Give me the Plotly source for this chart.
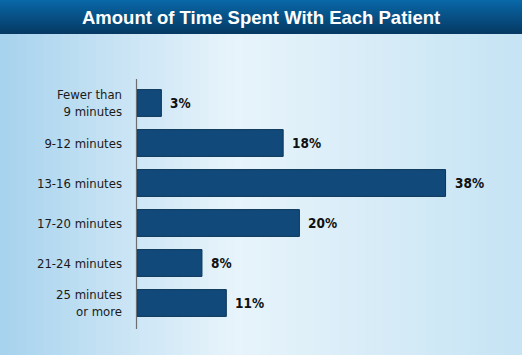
import plotly.graph_objects as go

categories = ["Fewer than<br>9 minutes", "9-12 minutes", "13-16 minutes",
              "17-20 minutes", "21-24 minutes", "25 minutes<br>or more"]
values = [3, 18, 38, 20, 8, 11]
value_labels = ["3%", "18%", "38%", "20%", "8%", "11%"]
title_text = "Amount of Time Spent With Each Patient"

W, H = 522, 355
FONT = "Liberation Sans Narrow, DejaVu Sans Condensed, Arial Narrow, sans-serif"

def lerp(c1, c2, t):
    return "rgb(%d,%d,%d)" % tuple(round(a + (b - a) * t) for a, b in zip(c1, c2))

shapes = []
# background horizontal gradient (left saturated, middle light, right mid)
n = 60
for i in range(n):
    t = i / (n - 1)
    if t < 0.45:
        c = lerp((168, 211, 238), (232, 244, 251), t / 0.45)
    else:
        c = lerp((232, 244, 251), (198, 228, 244), (t - 0.45) / 0.55)
    shapes.append(dict(type="rect", xref="paper", yref="paper",
                       x0=-137 / 385 + i * (W / n) / 385, x1=-137 / 385 + (i + 1) * (W / n) / 385 + 0.003,
                       y0=-1, y1=2, fillcolor=c, line_width=0, layer="below"))

fig = go.Figure()
fig.add_trace(go.Bar(
    y=categories, x=values, orientation="h",
    marker=dict(color="#114a7a", line=dict(color="#0a3456", width=1)),
    width=0.67, hoverinfo="skip",
))

annotations = []
for c, v, lab in zip(categories, values, value_labels):
    annotations.append(dict(x=v, y=c, text="<b>" + lab + "</b>", showarrow=False,
                            xanchor="left", xshift=7,
                            font=dict(family=FONT, size=13.5, color="#111111")))

fig.update_layout(
    width=W, height=H,
    margin=dict(l=137, r=0, t=83, b=32),
    paper_bgcolor="#d8ecf8", plot_bgcolor="rgba(0,0,0,0)",
    showlegend=False,
    xaxis=dict(range=[0, 385 / 8.12], visible=False, fixedrange=True),
    yaxis=dict(autorange="reversed", showgrid=False, zeroline=False, showline=False,
               ticks="", ticklabelstandoff=14,
               tickfont=dict(family=FONT, size=13, color="#1a1a1a")),
    annotations=annotations,
)

# banner gradient
m = 34
for j in range(m):
    t = j / (m - 1)
    c = lerp((10, 104, 168), (6, 58, 100), t)
    shapes.append(dict(type="rect", xref="paper", yref="paper",
                       x0=-137 / 385, x1=1.01,
                       y0=1 + (83 - j - 1) / 240, y1=1 + (83 - j) / 240 + 0.001,
                       fillcolor=c, line_width=0, layer="below"))
# axis line
shapes.append(dict(type="line", xref="paper", yref="paper",
                   x0=-0.5 / 385, x1=-0.5 / 385,
                   y0=1 + 4 / 240, y1=-6 / 240,
                   line=dict(color="#6b6f73", width=1.2)))
fig.update_layout(shapes=shapes)

fig.add_annotation(xref="paper", yref="paper", x=(261 - 137) / 385, y=1 + (83 - 17) / 240,
                   text="<b>" + title_text + "</b>", showarrow=False,
                   xanchor="center", yanchor="middle",
                   font=dict(family="Liberation Sans, Arial, sans-serif", size=18.5, color="white"))

fig.write_html("out.html")
